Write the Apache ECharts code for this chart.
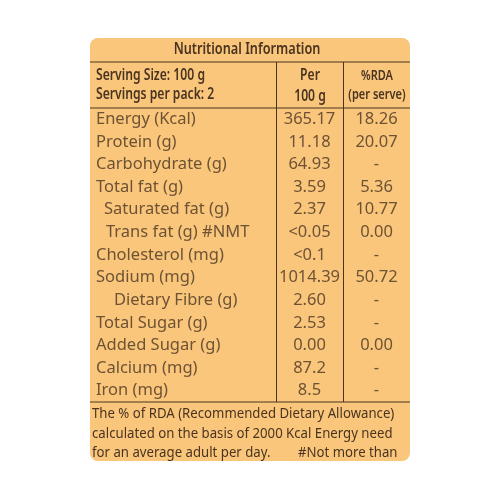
<!DOCTYPE html>
<html><head><meta charset="utf-8">
<script src="https://cdn.jsdelivr.net/npm/echarts@6/dist/echarts.min.js"></script>
<style>html,body{margin:0;background:#fff}#c{width:500px;height:500px}</style>
</head><body><div id="c"></div>
<script>
const nutrients = ["Energy (Kcal)","Protein (g)","Carbohydrate (g)","Total fat (g)","Saturated fat (g)","Trans fat (g) #NMT","Cholesterol (mg)","Sodium (mg)","Dietary Fibre (g)","Total Sugar (g)","Added Sugar (g)","Calcium (mg)","Iron (mg)"];
const indents = [0,0,0,0,8,10,0,0,18,0,0,0,0];
const per100g = ["365.17","11.18","64.93","3.59","2.37","<0.05","<0.1","1014.39","2.60","2.53","0.00","87.2","8.5"];
const rda = ["18.26","20.07","-","5.36","10.77","0.00","-","50.72","-","-","0.00","-","-"];
const title = "Nutritional Information";
const headerLeft = ["Serving Size: 100 g","Servings per pack: 2"];
const headerPer = ["Per","100 g"];
const headerRda = ["%RDA","(per serve)"];
const footer = ["The % of RDA (Recommended Dietary Allowance)","calculated on the basis of 2000 Kcal Energy need","for an average adult per day.        #Not more than"];

const C = "#4a3421", FONT = "'Noto Sans', sans-serif";
const chart = echarts.init(document.getElementById('c'));
const lbl = (align)=>({show:true,position:'inside',color:C,fontFamily:FONT,fontSize:16.5,align:align,formatter:p=>p.data.t});
const txt = (t,x,y,size,align,w,sx)=>({type:'text',x:x,y:y,scaleX:sx,style:{text:t,fill:C,font:w+" "+size+"px "+FONT,textAlign:align,textVerticalAlign:'middle'}});
chart.setOption({
  animation:false,
  grid:{left:90,right:90,top:108,bottom:98},
  xAxis:{type:'value',min:0,max:320,show:false},
  yAxis:{type:'category',data:nutrients,inverse:true,show:false},
  graphic:[
    {type:'rect',shape:{x:90,y:38,width:320,height:423,r:8},style:{fill:'#f9c67c'},z:-10},
    {type:'line',shape:{x1:90,y1:62,x2:410,y2:62},style:{stroke:C,lineWidth:1}},
    {type:'line',shape:{x1:90,y1:108,x2:410,y2:108},style:{stroke:C,lineWidth:1}},
    {type:'line',shape:{x1:90,y1:402,x2:410,y2:402},style:{stroke:C,lineWidth:1}},
    {type:'line',shape:{x1:276.5,y1:62,x2:276.5,y2:402},style:{stroke:C,lineWidth:1}},
    {type:'line',shape:{x1:343.5,y1:62,x2:343.5,y2:402},style:{stroke:C,lineWidth:1}},
    txt(title,247,50,15.5,'center',600,0.82),
    txt(headerLeft[0],96,75,16,'left',600,0.76),
    txt(headerLeft[1],96,94,16,'left',600,0.76),
    txt(headerPer[0],310,75,16,'center',600,0.76),
    txt(headerPer[1],310,96,16,'center',600,0.76),
    txt(headerRda[0],377,76,14.5,'center',600,0.76),
    txt(headerRda[1],377,95,14.5,'center',600,0.76)
  ].concat(footer.map((t,i)=>txt(t,92,414+i*19.5,14.2,'left','normal',0.93))),
  series:[
    {type:'scatter',symbolSize:0,label:lbl('left'),data:nutrients.map((n,i)=>({value:[6+indents[i],i],t:n}))},
    {type:'scatter',symbolSize:0,label:lbl('center'),data:per100g.map((v,i)=>({value:[219.5,i],t:v}))},
    {type:'scatter',symbolSize:0,label:lbl('center'),data:rda.map((v,i)=>({value:[286.5,i],t:v}))}
  ]
});
</script></body></html>
